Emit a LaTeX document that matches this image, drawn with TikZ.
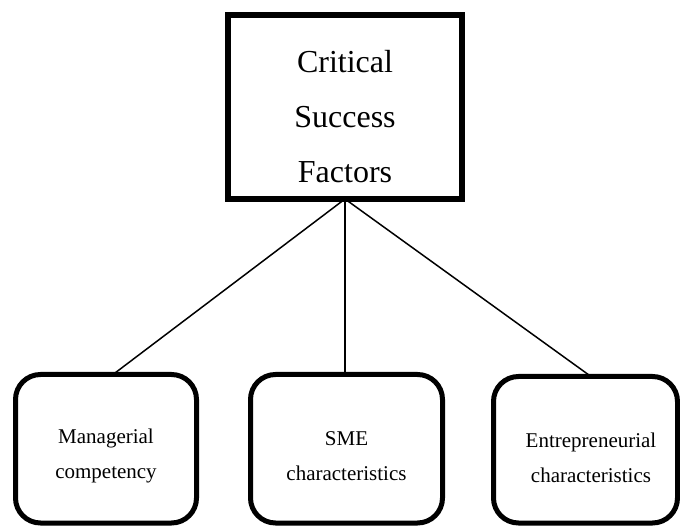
\documentclass[tikz,border=0pt]{standalone}
\usepackage{fontspec}
\setmainfont{Liberation Serif}
\begin{document}
\begin{tikzpicture}[x=1pt,y=-1pt,
  headbox/.style={draw=black, line width=6pt, inner sep=0pt, outer sep=0pt,
    minimum width=234pt, minimum height=184pt},
  factorbox/.style={draw=black, line width=5pt, rounded corners=25pt,
    inner sep=0pt, outer sep=0pt, minimum height=148.5pt},
  headtext/.style={inner sep=0pt, align=center,
    font=\fontsize{32}{55}\selectfont},
  factortext/.style={inner sep=0pt, align=center,
    font=\fontsize{21}{35}\selectfont},
  link/.style={draw=black, line width=1.5pt}
]
\useasboundingbox (0,0) rectangle (680,526);

% central box
\node[headbox] (csf) at (345,107) {};
\node[headtext] (csftext) at (345,117) {Critical\\Success\\Factors};

% the three factor boxes
\node[factorbox, minimum width=181pt] (mgr) at (106,448.75) {};
\node[factortext] (mgrtext) at (106,455.7) {Managerial\\competency};

\node[factorbox, minimum width=192pt] (sme) at (346.5,448.75) {};
\node[factortext] (smetext) at (346.5,455.7) {SME\\characteristics};

\node[factorbox, minimum width=184pt, minimum height=146.5pt] (ent) at (585.5,449.75) {};
\node[factortext] (enttext) at (591,457.7) {Entrepreneurial\\characteristics};

% connectors
\draw[link] (csf.south) -- ([xshift=7pt]mgr.north);
\draw[link] (csf.south) -- (sme.north -| csf.south);
\draw[link] (csf.south) -- ([xshift=5.5pt]ent.north);
\end{tikzpicture}
\end{document}
